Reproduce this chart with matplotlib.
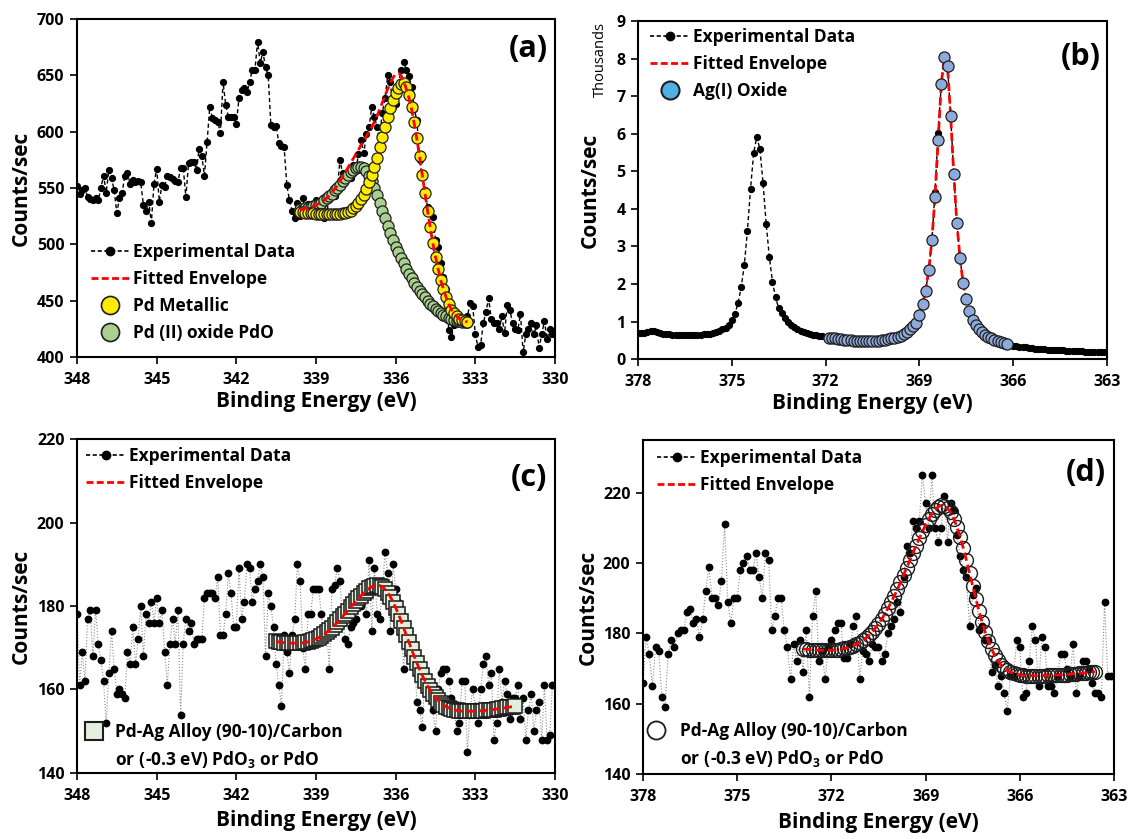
import numpy as np
import matplotlib
matplotlib.use('Agg')
import matplotlib.pyplot as plt
from matplotlib.lines import Line2D

plt.rcParams['font.family'] = ['Open Sans', 'DejaVu Sans']
plt.rcParams['font.weight'] = 'bold'
plt.rcParams['axes.labelweight'] = 'bold'
plt.rcParams['mathtext.fontset'] = 'custom'
plt.rcParams['mathtext.bf'] = 'Open Sans:bold'
plt.rcParams['mathtext.rm'] = 'Open Sans:bold'

# ---------------- (a) Pd 3d, 348 -> 330 eV, 0.1 eV step ----------------
counts_a = [552, 545, 548, 550, 542, 540, 539, 541, 539, 550,
            561, 546, 566, 559, 548, 528, 541, 546, 561, 563,
            554, 557, 555, 556, 555, 535, 530, 538, 519, 554,
            567, 538, 553, 551, 561, 560, 558, 556, 555, 568,
            568, 542, 572, 573, 573, 566, 585, 578, 561, 591,
            622, 612, 610, 609, 599, 644, 624, 613, 613, 613,
            607, 630, 637, 639, 635, 644, 655, 655, 680, 661,
            671, 657, 650, 606, 604, 605, 590, 587, 586, 553,
            539, 530, 523, 537, 525,
            541, 531, 536, 530, 535, 539, 535, 531, 523, 528,
            540, 545, 543, 548, 575, 563, 557, 560, 559, 570,
            566, 580, 593, 581, 598, 604, 622, 613, 604, 597,
            617, 630, 650, 644, 622, 625, 640, 655, 662, 655,
            649, 640, 620, 610, 575, 560, 548, 533, 530, 524,
            504, 498, 483, 471, 460, 424, 418, 428, 433, 430,
            432, 435, 436, 448, 445, 420, 409, 411, 430, 440,
            452, 434, 430, 430, 425, 436, 421, 446, 442, 430,
            425, 424, 438, 404, 420, 425, 430, 420, 428, 408,
            420, 432, 416, 425, 420]

# fitted region 339.6 -> 333.3 eV
pdo_a = [531, 531, 532, 532, 533, 534, 535, 536, 537, 539,
         541, 543, 545, 548, 550, 553, 556, 559, 562, 564,
         566, 568, 569, 569, 568, 565, 561, 556, 550, 544,
         537, 530, 523, 516, 510, 504, 498, 493, 488, 483,
         478, 474, 470, 466, 462, 459, 456, 453, 450, 447,
         445, 443, 441, 439, 437, 436, 435, 434, 433, 432,
         432, 431, 431, 431]
pd_metal_a = [529, 529, 528, 528, 528, 528, 527, 527, 527, 527,
              527, 527, 527, 527, 527, 527, 528, 528, 529, 530,
              532, 534, 537, 540, 544, 549, 555, 562, 569, 577,
              586, 595, 604, 613, 621, 628, 634, 639, 642, 643,
              640, 633, 622, 609, 594, 578, 562, 546, 530, 515,
              501, 489, 478, 468, 460, 453, 447, 442, 439, 436,
              434, 433, 432, 431]
env_a = [531, 531, 532, 532, 533, 534, 535, 536, 537, 539,
         541, 543, 546, 549, 552, 556, 560, 564, 568, 572,
         576, 580, 584, 588, 592, 596, 600, 604, 609, 614,
         620, 626, 632, 638, 643, 648, 651, 652, 650, 645,
         638, 630, 620, 607, 593, 578, 562, 546, 530, 515,
         501, 489, 478, 468, 460, 453, 447, 442, 439, 436,
         434, 433, 432, 431]

# ---------------- (b) Ag 3d, 378 -> 363 eV, thousands ----------------
counts_b = [0.70, 0.69, 0.70, 0.73, 0.74, 0.74, 0.72, 0.70, 0.68, 0.67,
            0.66, 0.65, 0.65, 0.64, 0.64, 0.63, 0.63, 0.63, 0.64, 0.64,
            0.65, 0.66, 0.67, 0.68, 0.70, 0.72, 0.75, 0.79, 0.83, 0.90,
            1.05, 1.20, 1.49, 1.91, 2.50, 3.42, 4.54, 5.49, 5.92, 5.58,
            4.69, 3.60, 2.73, 2.06, 1.64, 1.35, 1.22, 1.10, 1.00, 0.92,
            0.86, 0.80, 0.76, 0.72, 0.69, 0.67, 0.65, 0.63, 0.62, 0.61,
            0.60, 0.58, 0.57, 0.55, 0.54, 0.53, 0.52, 0.51, 0.50, 0.49,
            0.48, 0.48, 0.47, 0.47, 0.48, 0.47, 0.48, 0.49, 0.50, 0.52,
            0.53, 0.55, 0.57, 0.60, 0.62, 0.66, 0.72, 0.80, 0.89, 0.98,
            1.19, 1.46, 1.83, 2.36, 3.17, 4.45, 6.02, 7.32, 8.04, 7.80,
            6.47, 4.92, 3.61, 2.68, 2.02, 1.59, 1.27, 1.05, 0.90, 0.80,
            0.72, 0.65, 0.60, 0.55, 0.51, 0.48, 0.45, 0.43, 0.40, 0.38,
            0.36, 0.35, 0.33, 0.32, 0.31, 0.30, 0.29, 0.28, 0.27, 0.27,
            0.26, 0.25, 0.25, 0.24, 0.24, 0.23, 0.23, 0.22, 0.22, 0.22,
            0.21, 0.21, 0.21, 0.20, 0.20, 0.20, 0.20, 0.20, 0.19, 0.19,
            0.19]

# fitted region 371.9 -> 366.2 eV
ag_oxide_b = [0.57, 0.56, 0.55, 0.54, 0.53, 0.52, 0.51, 0.50, 0.49, 0.48,
              0.48, 0.47, 0.47, 0.47, 0.47, 0.48, 0.49, 0.50, 0.52, 0.53,
              0.55, 0.57, 0.59, 0.62, 0.66, 0.72, 0.80, 0.88, 0.97, 1.18,
              1.46, 1.82, 2.36, 3.17, 4.32, 5.83, 7.32, 8.04, 7.80, 6.47,
              4.92, 3.61, 2.68, 2.02, 1.59, 1.27, 1.05, 0.90, 0.80, 0.72,
              0.65, 0.60, 0.55, 0.51, 0.48, 0.45, 0.43, 0.40]
env_b = ag_oxide_b  # single component: envelope equals the component

# ---------------- (c) Pd 3d alloy, 348 -> 330 eV ----------------
counts_c = [178, 161, 169, 162, 177, 179, 168, 179, 171, 167,
            162, 152, 164, 174, 165, 159, 160, 159, 158, 169,
            166, 175, 166, 172, 180, 168, 178, 176, 181, 176,
            182, 176, 179, 169, 161, 171, 177, 171, 179, 154,
            171, 177, 174, 176, 171, 172, 172, 172, 182, 183,
            183, 183, 182, 187, 173, 173, 178, 188, 183, 175,
            175, 189, 177, 181, 190, 189, 181, 184, 186, 190,
            187, 168, 183, 180, 175, 166, 161, 156, 173, 169,
            164, 173, 177, 190, 186, 170, 165, 178, 178, 184,
            184, 184, 178, 173, 175, 165, 184, 185, 189, 186,
            176, 172, 171, 175, 176, 177, 180, 180, 183, 178,
            191, 174, 189, 178, 177, 184, 193, 188, 174, 190,
            184, 181, 179, 165, 174, 174, 170, 168, 157, 155,
            151, 164, 162, 158, 155, 150, 160, 164, 165, 165,
            162, 158, 155, 150, 152, 162, 162, 145, 155, 160,
            156, 152, 160, 166, 168, 161, 164, 148, 152, 165,
            157, 162, 159, 153, 158, 158, 161, 153, 158, 148,
            155, 159, 150, 155, 157, 148, 161, 148, 149, 161]

# fitted region 340.5 -> 331.5 eV
alloy_c = [171.5, 171.4, 171.3, 171.2, 171.2, 171.1, 171.1, 171.1, 171.1, 171.1,
           171.2, 171.3, 171.4, 171.6, 171.8, 172.1, 172.4, 172.8, 173.2, 173.7,
           174.2, 174.8, 175.4, 176.1, 176.8, 177.5, 178.2, 178.9, 179.7, 180.4,
           181.1, 181.8, 182.5, 183.1, 183.7, 184.2, 184.6, 184.9, 185.0, 184.9,
           184.6, 184.0, 183.2, 182.2, 181.0, 179.6, 178.1, 176.5, 174.8, 173.0,
           171.3, 169.6, 167.9, 166.3, 164.8, 163.4, 162.1, 160.9, 159.8, 158.9,
           158.1, 157.4, 156.8, 156.3, 155.9, 155.6, 155.3, 155.1, 155.0, 154.9,
           154.8, 154.8, 154.8, 154.8, 154.8, 154.8, 154.8, 154.9, 154.9, 155.0,
           155.0, 155.1, 155.2, 155.3, 155.4, 155.5, 155.6, 155.7, 155.8, 155.9,
           156.0]
env_c = alloy_c

# ---------------- (d) Ag 3d alloy, 378 -> 363 eV ----------------
counts_d = [166, 179, 174, 165, 176, 175, 162, 159, 174, 178,
            176, 180, 181, 181, 186, 187, 183, 184, 179, 184,
            192, 199, 190, 190, 188, 195, 211, 189, 183, 190,
            190, 198, 200, 202, 198, 198, 203, 196, 190, 203,
            201, 181, 185, 190, 190, 181, 176, 167, 177, 172,
            178, 169, 181, 162, 185, 192, 172, 175, 167, 176,
            178, 181, 183, 183, 173, 173, 177, 182, 185, 167,
            175, 174, 172, 177, 176, 176, 172, 174, 180, 182,
            184, 189, 186, 196, 205, 203, 212, 210, 212, 225,
            217, 210, 225, 210, 206, 210, 219, 206, 217, 215,
            208, 202, 198, 196, 182, 191, 193, 181, 182, 178,
            178, 169, 171, 165, 168, 163, 158, 168, 168, 178,
            176, 162, 163, 172, 182, 178, 165, 179, 176, 165,
            165, 163, 168, 174, 174, 170, 168, 177, 163, 168,
            172, 172, 170, 166, 163, 163, 162, 189, 168, 168,
            168]

# fitted region 372.9 -> 363.6 eV
alloy_d = [175.6, 175.5, 175.4, 175.3, 175.3, 175.2, 175.2, 175.2, 175.2, 175.2,
           175.3, 175.4, 175.5, 175.7, 175.9, 176.2, 176.5, 176.9, 177.4, 178.0,
           178.7, 179.5, 180.4, 181.5, 182.7, 184.0, 185.5, 187.1, 188.8, 190.6,
           192.5, 194.5, 196.6, 198.7, 200.8, 202.9, 205.0, 207.0, 209.0, 210.8,
           212.5, 214.0, 215.2, 216.0, 216.4, 216.3, 215.6, 214.4, 212.6, 210.3,
           207.5, 204.3, 200.8, 197.2, 193.5, 189.9, 186.4, 183.2, 180.3, 177.8,
           175.6, 173.8, 172.3, 171.1, 170.2, 169.5, 169.0, 168.6, 168.4, 168.2,
           168.1, 168.0, 168.0, 168.0, 168.0, 168.0, 168.0, 168.0, 168.1, 168.1,
           168.1, 168.2, 168.2, 168.3, 168.3, 168.4, 168.5, 168.5, 168.6, 168.7,
           168.8, 168.9, 169.0, 169.1]
env_d = alloy_d


def grid(start, values):
    # energies of an evenly stepped (0.1 eV) scan starting at `start`
    return np.round(start - 0.1 * np.arange(len(values)), 1)


be_a, fbe_a = grid(348.0, counts_a), grid(339.6, env_a)
be_b, fbe_b = grid(378.0, counts_b), grid(371.9, env_b)
be_c, fbe_c = grid(348.0, counts_c), grid(340.5, env_c)
be_d, fbe_d = grid(378.0, counts_d), grid(372.9, env_d)

RED = '#ff0000'
LEG = dict(frameon=False, prop=dict(weight='bold', size=12.5), handlelength=2.25,
           handletextpad=0.2, labelspacing=0.52, borderaxespad=0, borderpad=0)
LEG2 = {**LEG, 'handlelength': 1.2, 'handletextpad': 0.65, 'labelspacing': 0.45}

exp_handle = Line2D([], [], color='black', ls='--', lw=1.2, dashes=(2.5, 1.5),
                    marker='o', ms=6)
env_handle = Line2D([], [], color=RED, ls='--', lw=2, dashes=(2.5, 1.2))
blank = Line2D([], [], ls='none')
alloy_labels = ['Pd-Ag Alloy (90-10)/Carbon', r'or (-0.3 eV) PdO$_\mathbf{3}$ or PdO']


def setup(ax, xlim, xticks, ylim, yticks, tag, tag_x, tag_y, ylpad, xlpad=2):
    ax.set_xlim(xlim)
    ax.set_xticks(xticks)
    ax.set_ylim(ylim)
    ax.set_yticks(yticks)
    ax.tick_params(direction='out', length=5, width=1.2, labelsize=11.5)
    ax.tick_params(axis='x', pad=6)
    ax.tick_params(axis='y', pad=4)
    for lab in ax.get_xticklabels() + ax.get_yticklabels():
        lab.set_fontweight('bold')
    for s in ax.spines.values():
        s.set_linewidth(1.5)
    ax.set_xlabel('Binding Energy (eV)', fontsize=15, labelpad=xlpad)
    ax.set_ylabel('Counts/sec', fontsize=15, labelpad=ylpad)
    ax.text(tag_x, tag_y, tag, transform=ax.transAxes, ha='right', va='center',
            fontsize=22, fontweight='bold')


fig = plt.figure(figsize=(11.29, 8.39), dpi=100)

# (a)
ax = fig.add_axes([0.0682, 0.5745, 0.4234, 0.4028])
ax.plot(be_a, counts_a, color='black', ls='--', lw=1, dashes=(3, 2),
        marker='o', ms=4.2, zorder=2)
ax.plot(fbe_a, pdo_a, ls='none', marker='o', ms=8, mfc='#a9d08e', mec='#1e1e1e',
        mew=0.9, zorder=3)
ax.plot(fbe_a, pd_metal_a, ls='none', marker='o', ms=8, mfc='#ffeb00', mec='#1e1e1e',
        mew=0.9, zorder=4)
ax.plot(fbe_a, env_a, color=RED, ls='--', lw=2, dashes=(3, 1.5), zorder=5)
setup(ax, (348, 330), np.arange(348, 329, -3), (400, 700), np.arange(400, 701, 50),
      '(a)', 0.985, 0.91, 4)
h_y = Line2D([], [], ls='none', marker='o', ms=13, mfc='#ffeb00', mec='#1e1e1e', mew=1.2)
h_g = Line2D([], [], ls='none', marker='o', ms=13, mfc='#a9d08e', mec='#1e1e1e', mew=1.2)
ax.legend([exp_handle, env_handle, h_y, h_g],
          ['Experimental Data', 'Fitted Envelope', 'Pd Metallic', 'Pd (II) oxide PdO'],
          loc='upper left', bbox_to_anchor=(0.029, 0.337), **LEG)

# (b)
ax = fig.add_axes([0.5651, 0.572, 0.4154, 0.403])
ax.plot(be_b, counts_b, color='black', ls='--', lw=1, dashes=(3, 2),
        marker='o', ms=4.2, zorder=2)
ax.plot(fbe_b, env_b, color=RED, ls='--', lw=2, dashes=(3, 1.5), zorder=3)
ax.plot(fbe_b, ag_oxide_b, ls='none', marker='o', ms=8, mfc='#8eaadb', mec='#1e1e1e',
        mew=0.9, zorder=4)
setup(ax, (378, 363), np.arange(378, 362, -3), (0, 9), np.arange(0, 10, 1),
      '(b)', 0.987, 0.893, 11)
ax.text(-0.081, 0.997, 'Thousands', transform=ax.transAxes, rotation=90,
        ha='center', va='top', fontsize=10.5, fontweight='normal')
h_b = Line2D([], [], ls='none', marker='o', ms=13, mfc='#4fb0e6', mec='#1e1e1e', mew=1.5)
ax.legend([exp_handle, env_handle, h_b],
          ['Experimental Data', 'Fitted Envelope', 'Ag(I) Oxide'],
          loc='upper left', bbox_to_anchor=(0.026, 0.979), **LEG)

# (c)
ax = fig.add_axes([0.0682, 0.0787, 0.4234, 0.398])
ax.plot(be_c, counts_c, color='#8a8a8a', ls=':', lw=0.8, marker='o', ms=4.6,
        mfc='black', mec='black', zorder=2)
ax.plot(fbe_c, alloy_c, ls='none', marker='s', ms=10, mfc='#e2efda', mec='#1a1a1a',
        mew=1.1, zorder=3)
ax.plot(fbe_c, env_c, color=RED, ls='--', lw=2, dashes=(3, 1.5), zorder=4)
setup(ax, (348, 330), np.arange(348, 329, -3), (140, 220), np.arange(140, 221, 20),
      '(c)', 0.983, 0.883, 4, 4)
leg = ax.legend([exp_handle, env_handle], ['Experimental Data', 'Fitted Envelope'],
                loc='upper left', bbox_to_anchor=(0.019, 0.975), **LEG)
ax.add_artist(leg)
h_s = Line2D([], [], ls='none', marker='s', ms=13, mfc='#e2efda', mec='#1e1e1e', mew=1.5)
ax.legend([h_s, blank], alloy_labels, loc='upper left', bbox_to_anchor=(0.013, 0.15), **LEG2)

# (d)
ax = fig.add_axes([0.5695, 0.0775, 0.4172, 0.398])
ax.plot(be_d, counts_d, color='#8a8a8a', ls=':', lw=0.8, marker='o', ms=4.6,
        mfc='black', mec='black', zorder=2)
ax.plot(fbe_d, alloy_d, ls='none', marker='o', ms=10, mfc='none', mec='#1e1e1e',
        mew=1.0, zorder=3)
ax.plot(fbe_d, env_d, color=RED, ls='--', lw=2, dashes=(3, 1.5), zorder=4)
setup(ax, (378, 363), np.arange(378, 362, -3), (140, 235), np.arange(140, 221, 20),
      '(d)', 0.983, 0.90, 3, 5)
leg = ax.legend([exp_handle, env_handle], ['Experimental Data', 'Fitted Envelope'],
                loc='upper left', bbox_to_anchor=(0.03, 0.972), **LEG)
ax.add_artist(leg)
h_o = Line2D([], [], ls='none', marker='o', ms=13, mfc='none', mec='#1e1e1e', mew=1.3)
ax.legend([h_o, blank], alloy_labels, loc='upper left', bbox_to_anchor=(0.006, 0.156),
          **{**LEG2, 'handletextpad': 0.75})

fig.savefig('out.png', dpi=100)
